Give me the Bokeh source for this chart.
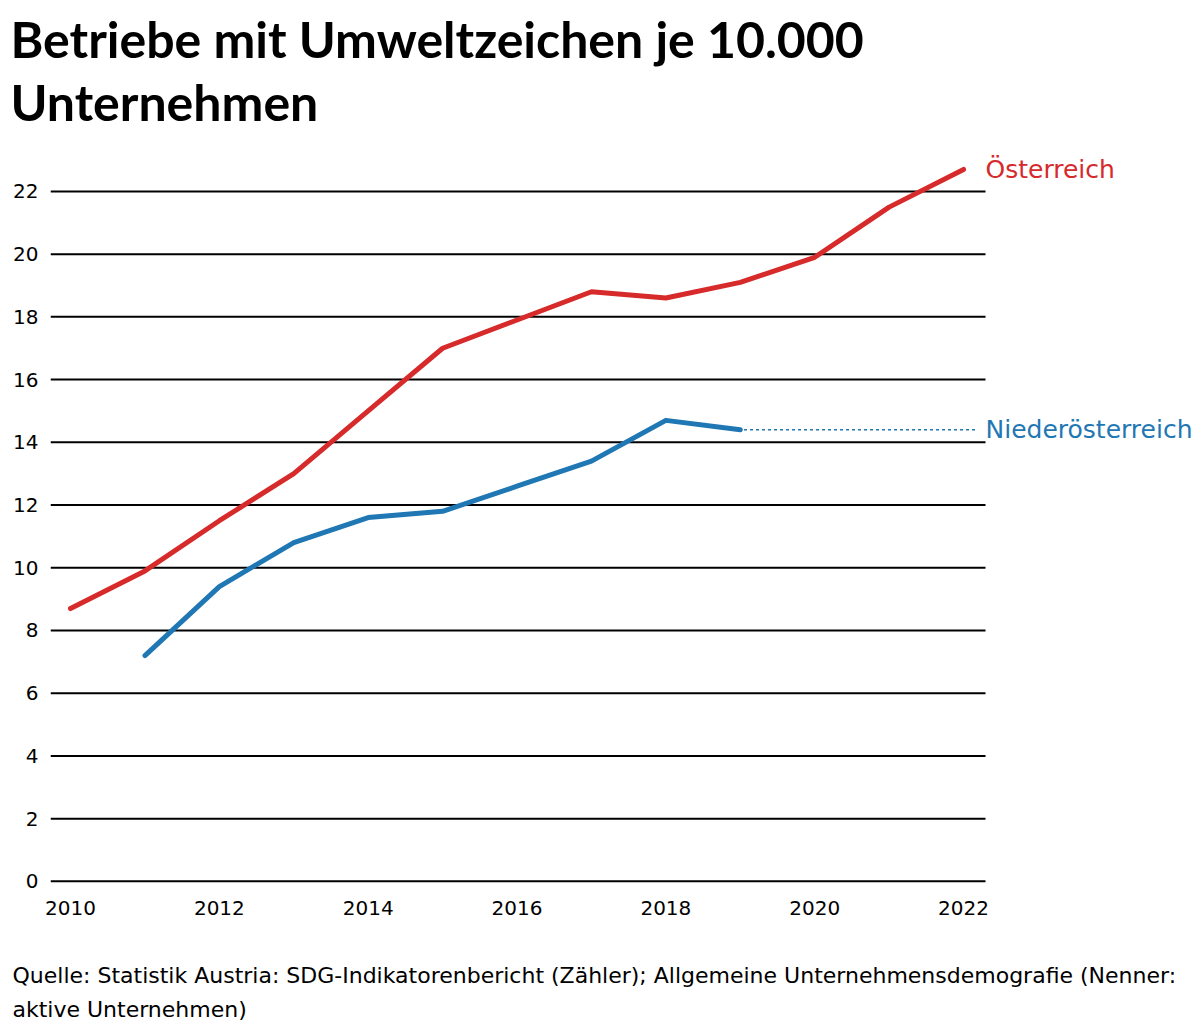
from bokeh.plotting import figure
from bokeh.models import Title, FixedTicker, Range1d
from bokeh.embed import file_html
from bokeh.resources import INLINE
from bokeh.core.properties import value

years_at = [2010, 2011, 2012, 2013, 2014, 2015, 2016, 2017, 2018, 2019, 2020, 2021, 2022]
values_at = [8.7, 9.9, 11.5, 13.0, 15.0, 17.0, 17.9, 18.8, 18.6, 19.1, 19.9, 21.5, 22.7]
years_noe = [2011, 2012, 2013, 2014, 2015, 2016, 2017, 2018, 2019]
values_noe = [7.2, 9.4, 10.8, 11.6, 11.8, 12.6, 13.4, 14.7, 14.4]
y_ticks = [0, 2, 4, 6, 8, 10, 12, 14, 16, 18, 20, 22]
x_ticks = [2010, 2012, 2014, 2016, 2018, 2020, 2022]

RED = "#d62a2b"
BLUE = "#1f77b4"
FONT = "DejaVu Sans"
TFONT = "Lato"

X0, X1 = 2009.731, 2025.184
GRID_END = 2022.295
DOT_END = 2022.16
LABEL_X = 2022.295

p = figure(frame_width=1150, frame_height=745, output_backend="svg", toolbar_location=None,
           title=None, x_range=Range1d(X0, X1), y_range=Range1d(-0.1, 23.656),
           min_border_left=50, min_border_right=0, min_border_top=0, min_border_bottom=0)
p.outline_line_color = None
p.xgrid.visible = False
p.ygrid.visible = False

# gridlines as segments so the right side stays free for labels
p.segment(x0=[X0] * len(y_ticks), x1=[GRID_END] * len(y_ticks), y0=y_ticks, y1=y_ticks,
          line_color="black", line_width=2)

p.line(years_at, values_at, line_color=RED, line_width=5, line_cap="round", line_join="round")
p.line(years_noe, values_noe, line_color=BLUE, line_width=5, line_cap="round", line_join="round")
p.line([years_noe[-1] + 0.05, DOT_END], [values_noe[-1], values_noe[-1]], line_color=BLUE,
       line_width=1.5, line_dash="3 3")

p.text(x=[LABEL_X], y=[values_at[-1]], text=["Österreich"], text_color=RED,
       text_font=value(FONT), text_font_size="25px", text_baseline="middle", text_align="left")
p.text(x=[LABEL_X], y=[values_noe[-1]], text=["Niederösterreich"], text_color=BLUE,
       text_font=value(FONT), text_font_size="25px", text_baseline="middle", text_align="left")

for ax in (p.xaxis[0], p.yaxis[0]):
    ax.axis_line_color = None
    ax.major_tick_line_color = None
    ax.minor_tick_line_color = None
    ax.major_tick_out = 0
    ax.major_tick_in = 0
    ax.minor_tick_out = 0
    ax.minor_tick_in = 0
    ax.major_label_text_font = FONT
    ax.major_label_text_font_size = "20px"
    ax.major_label_text_color = "black"
p.xaxis.ticker = FixedTicker(ticks=x_ticks)
p.yaxis.ticker = FixedTicker(ticks=y_ticks)
p.xaxis.major_label_standoff = 16
p.yaxis.major_label_standoff = 12

p.add_layout(Title(text="Betriebe mit Umweltzeichen je 10.000\nUnternehmen", text_font=TFONT,
                   text_font_size="50px", text_font_style="bold", text_color="black",
                   text_line_height=1.058, align="left", offset=-40, standoff=14), "above")

# spacer between the x axis and the source note
p.add_layout(Title(text=" ", text_font=FONT, text_font_size="33px", standoff=0,
                   text_line_height=1.0), "below")
p.add_layout(Title(text="Quelle: Statistik Austria: SDG-Indikatorenbericht (Zähler); Allgemeine Unternehmensdemografie (Nenner:\naktive Unternehmen)",
                   text_font=FONT, text_font_size="22px", text_font_style="normal", text_color="black",
                   text_line_height=1.34, align="left", offset=-38, standoff=4), "below")

open("out.html", "w").write(file_html(p, INLINE))
